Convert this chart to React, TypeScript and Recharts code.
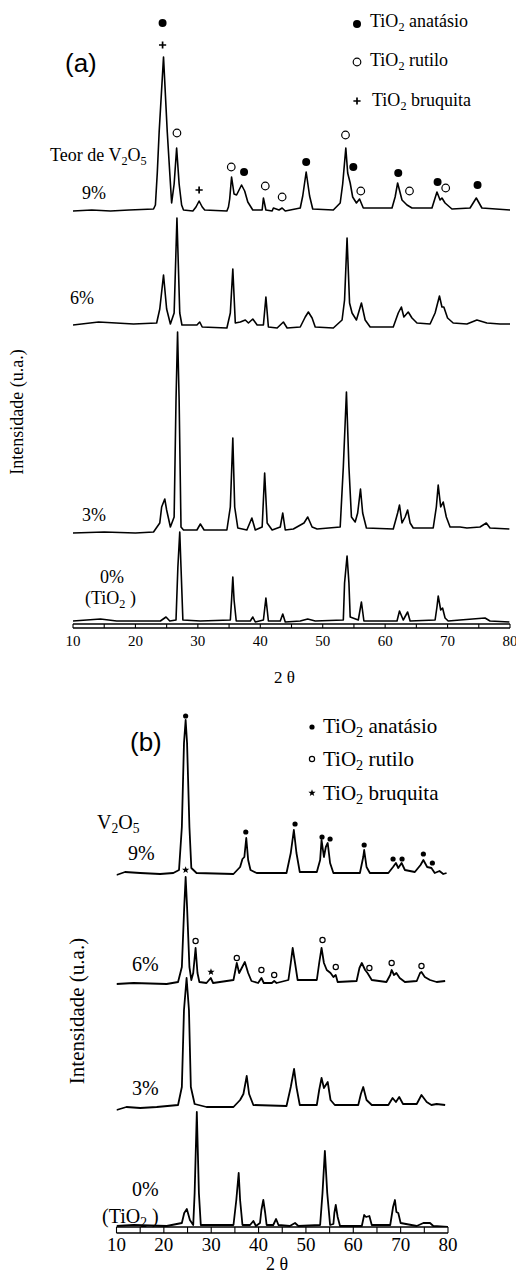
import React from 'react';
import { ComposedChart, Line, Scatter, XAxis, YAxis, ReferenceLine } from 'recharts';

type Pt = [number, number];

const SERIF = '"Liberation Serif", "Times New Roman", serif';
const SANS = '"Liberation Sans", Arial, sans-serif';

// ---------- shared axis ticks ----------
const X_TICKS = [10, 15, 20, 25, 30, 35, 40, 45, 50, 55, 60, 65, 70, 75, 80];
const X_TICK_LABELS = [10, 20, 30, 40, 50, 60, 70, 80];

// ---------- panel (a): intensity (u.a.) vs 2θ ----------
const A_9: Pt[] = [
  [10, 413], [13, 414], [16, 413], [19, 414], [22.9, 415], [23.2, 419], [23.5, 451], [23.8, 492], [24.5, 567],
  [25.1, 492], [25.5, 451], [25.8, 421], [26.2, 440], [26.6, 476], [27.0, 440], [27.4, 419], [27.7, 414],
  [29.2, 413], [29.7, 417], [30.2, 423], [30.7, 417], [31.1, 414], [34.65, 413], [34.9, 417], [35.1, 425],
  [35.4, 447], [35.8, 430], [36.2, 429], [37.0, 439], [37.5, 433], [38.0, 422], [38.8, 414], [40.3, 414],
  [40.5, 426], [40.9, 414], [41.9, 413], [42.1, 416], [43.0, 414], [43.5, 416], [44.0, 413], [46.4, 416],
  [46.8, 428], [47.35, 452], [47.9, 428], [48.4, 415], [51.7, 414], [52.8, 421], [53.2, 440], [53.7, 476],
  [54.0, 451], [54.4, 441], [54.8, 427], [55.4, 421], [55.9, 425], [56.5, 416], [61.1, 416], [61.6, 427],
  [62.0, 441], [62.7, 424], [63.5, 419], [64.3, 416], [67.5, 416], [68.3, 432], [68.8, 424], [69.1, 426],
  [69.6, 421], [70.7, 415], [73.6, 416], [74.6, 426], [75.5, 416], [80, 414],
];
const A_6: Pt[] = [
  [10, 299], [14.1, 302], [19.7, 300], [23.4, 301], [23.9, 315], [24.5, 349], [25.0, 315], [25.6, 300],
  [26.2, 311], [26.65, 406], [27.1, 311], [27.45, 299], [29.85, 299], [30.3, 302], [30.7, 297], [34.65, 296],
  [35.2, 311], [35.6, 355], [36.0, 301], [36.8, 302], [37.6, 304], [38.1, 301], [38.8, 305], [39.5, 299],
  [40.5, 299], [40.9, 327], [41.3, 297], [42.7, 296], [43.7, 302], [44.3, 296], [46.4, 297], [47.2, 307],
  [47.7, 312], [48.3, 306], [48.8, 297], [51.7, 296], [53.1, 304], [53.5, 324], [53.9, 386], [54.3, 321],
  [54.7, 311], [55.4, 304], [56.2, 321], [56.8, 304], [57.6, 297], [61.3, 297], [62.1, 311], [62.6, 317],
  [63.0, 307], [63.7, 312], [64.3, 306], [65.1, 301], [67.2, 300], [68.0, 311], [68.7, 328], [69.1, 317],
  [69.4, 317], [70.0, 306], [70.9, 301], [73.1, 300], [74.7, 304], [76.3, 301], [78.4, 300], [80, 300],
];
const A_3: Pt[] = [
  [10, 91], [15, 92], [20, 91], [22.9, 92], [23.9, 101], [24.2, 117], [24.7, 125], [25.0, 114], [25.6, 97],
  [26.2, 107], [26.5, 224], [26.75, 292], [27.0, 224], [27.3, 97], [27.7, 94], [29.85, 94], [30.4, 100],
  [31.0, 94], [34.65, 94], [35.2, 117], [35.6, 186], [35.9, 117], [36.4, 96], [37.85, 94], [38.65, 106],
  [39.2, 94], [40.3, 97], [40.7, 151], [41.1, 101], [41.9, 94], [43.2, 97], [43.6, 111], [44.0, 94],
  [45.3, 95], [47.0, 101], [47.6, 107], [48.3, 97], [49.1, 95], [52.8, 97], [53.3, 157], [53.8, 232],
  [54.2, 157], [54.6, 107], [55.2, 102], [55.6, 111], [56.05, 135], [56.4, 111], [57.0, 96], [61.3, 95],
  [62.0, 111], [62.3, 119], [62.7, 101], [63.2, 107], [63.6, 114], [64.0, 101], [64.5, 96], [67.7, 96],
  [68.2, 117], [68.5, 139], [68.9, 117], [69.3, 122], [69.8, 107], [70.4, 97], [72.0, 97], [73.1, 96],
  [75.2, 97], [76.2, 101], [76.8, 96], [79.9, 95],
];
const A_0: Pt[] = [
  [10, 3], [12.2, 4], [14.4, 5], [17.0, 3], [24.0, 3], [24.9, 7], [25.5, 3], [26.5, 4], [26.8, 57], [27.1, 92],
  [27.3, 57], [27.6, 4], [30.4, 3], [35.2, 4], [35.4, 24], [35.6, 47], [35.8, 24], [36.15, 3], [38.4, 3],
  [38.8, 7], [39.2, 2], [40.5, 4], [40.9, 26], [41.3, 3], [43.2, 3], [43.6, 10], [44.0, 2], [46.4, 3],
  [47.6, 5], [48.8, 3], [53.3, 4], [53.5, 41], [53.9, 68], [54.2, 41], [54.4, 7], [55.7, 4], [56.2, 22],
  [56.6, 3], [61.9, 3], [62.3, 13], [62.9, 4], [63.6, 12], [64.0, 3], [68.0, 4], [68.3, 17], [68.5, 28],
  [68.9, 14], [69.2, 16], [69.6, 6], [70.1, 3], [72.0, 4], [76.0, 6], [76.8, 3], [79.9, 2],
];
const A_ANATASE: Pt[] = [[24.35, 601], [37.4, 452], [47.35, 462], [54.9, 457], [62.1, 451], [68.4, 442], [74.8, 439]];
const A_RUTILE: Pt[] = [[26.65, 491], [35.35, 457], [40.8, 438], [43.5, 427], [53.65, 489], [56.1, 433], [63.9, 433], [69.7, 436]];
const A_BROOKITE: Pt[] = [[24.35, 579], [30.2, 434]];

// ---------- panel (b) ----------
const B_9: Pt[] = [
  [10, 352], [11.8, 355], [15.0, 354], [19.2, 353], [22.0, 354], [23.2, 357], [23.8, 400], [24.25, 484],
  [24.6, 507], [24.9, 484], [25.4, 400], [25.8, 359], [26.9, 354], [34.7, 353], [36.1, 360], [36.6, 368],
  [37.0, 370], [37.4, 389], [37.8, 367], [38.3, 357], [39.6, 354], [45.9, 354], [46.8, 374], [47.45, 397],
  [48.0, 374], [48.7, 355], [52.3, 355], [53.0, 367], [53.3, 387], [53.8, 370], [54.2, 380], [54.6, 384],
  [55.1, 364], [55.8, 354], [61.4, 354], [62.1, 370], [62.3, 377], [62.8, 360], [63.5, 354], [67.4, 354],
  [68.4, 360], [69.0, 364], [69.5, 359], [70.2, 364], [70.9, 357], [73.0, 355], [74.2, 362], [74.8, 367],
  [75.6, 360], [76.5, 359], [77.2, 354], [78.2, 356], [79.0, 353], [79.7, 354],
];
const B_6: Pt[] = [
  [10, 243], [13.6, 244], [20.6, 243], [23.0, 245], [23.8, 260], [24.3, 320], [24.6, 350], [24.9, 320],
  [25.4, 260], [25.8, 247], [26.2, 254], [26.7, 279], [27.1, 254], [27.5, 245], [29.0, 244], [29.9, 249],
  [30.4, 244], [34.7, 247], [35.4, 264], [35.9, 254], [37.1, 265], [37.8, 254], [38.5, 246], [39.9, 244],
  [40.6, 249], [41.1, 244], [42.8, 244], [43.3, 246], [43.8, 244], [46.3, 247], [46.8, 264], [47.2, 279],
  [47.7, 264], [48.25, 247], [52.3, 247], [52.8, 264], [53.3, 279], [53.8, 264], [54.4, 257], [55.2, 254],
  [55.8, 250], [56.3, 252], [56.7, 245], [60.7, 246], [61.3, 259], [61.8, 264], [62.5, 257], [63.0, 254],
  [63.9, 247], [67.0, 245], [67.8, 252], [68.1, 257], [68.6, 252], [69.1, 254], [69.8, 249], [70.9, 245],
  [73.4, 246], [74.1, 254], [74.4, 255], [75.1, 250], [76.2, 247], [77.6, 245], [79.4, 246],
];
const B_3: Pt[] = [
  [10, 117], [12.1, 120], [15.0, 119], [18.5, 120], [23.0, 122], [23.8, 140], [24.25, 217], [24.8, 249],
  [25.3, 217], [25.7, 140], [26.5, 123], [29.0, 120], [34.7, 120], [36.1, 127], [36.8, 133], [37.5, 151],
  [38.0, 133], [38.9, 122], [45.9, 121], [46.8, 140], [47.5, 158], [48.0, 140], [48.7, 122], [52.3, 122],
  [52.8, 137], [53.3, 149], [53.8, 139], [54.6, 145], [55.2, 127], [56.1, 122], [61.05, 122], [61.6, 133],
  [62.1, 140], [62.8, 127], [63.9, 122], [67.4, 122], [68.3, 129], [69.0, 125], [69.7, 130], [70.5, 123],
  [73.4, 123], [74.4, 132], [75.5, 125], [76.5, 122], [77.6, 123], [79.4, 122],
];
const B_0: Pt[] = [
  [10, 1], [13.6, 2], [20.6, 1], [23.8, 4], [24.3, 14], [24.85, 18], [25.5, 7], [26.2, 2], [26.5, 34],
  [26.96, 115], [27.4, 34], [27.8, 2], [34.7, 2], [35.3, 27], [35.8, 54], [36.1, 27], [36.6, 2], [38.2, 2],
  [38.9, 6], [39.45, 1], [40.3, 4], [40.6, 17], [41.0, 27], [41.4, 14], [41.7, 2], [43.1, 2], [43.7, 8],
  [44.2, 2], [46.6, 1], [47.7, 4], [48.4, 1], [53.0, 2], [53.5, 34], [54.0, 76], [54.5, 34], [55.1, 2],
  [55.8, 3], [56.0, 14], [56.3, 22], [56.7, 10], [57.2, 1], [61.8, 1], [62.3, 12], [62.7, 10], [63.4, 11],
  [63.9, 2], [67.8, 2], [68.4, 20], [68.8, 27], [69.1, 15], [69.5, 14], [70.0, 4], [73.4, 1], [74.8, 4],
  [76.2, 4], [76.9, 1], [80, 0],
];
const B_ANATASE: Pt[] = [[24.6, 511], [37.3, 395], [47.7, 403], [53.4, 390], [55.1, 388], [62.3, 382], [68.4, 368], [70.3, 368], [74.8, 373], [76.7, 364]];
const B_RUTILE: Pt[] = [[26.7, 286], [35.4, 269], [40.6, 257], [43.3, 252], [53.5, 287], [56.3, 260], [63.4, 259], [68.1, 264], [74.4, 261]];
const B_BROOKITE: Pt[] = [[24.6, 357], [29.95, 255]];

const toRows = (pts: Pt[]) => pts.map(([x, y]) => ({ x, y }));

// ---------- marker shapes ----------
const starPath = (cx: number, cy: number, R: number, r: number) => {
  let d = '';
  for (let i = 0; i < 10; i++) {
    const a = -Math.PI / 2 + (i * Math.PI) / 5;
    const rad = i % 2 === 0 ? R : r;
    d += (i === 0 ? 'M' : 'L') + (cx + rad * Math.cos(a)).toFixed(2) + ',' + (cy + rad * Math.sin(a)).toFixed(2);
  }
  return d + 'Z';
};

type Kind = 'dot' | 'ring' | 'plus' | 'star';
const drawSymbol = (kind: Kind, cx: number, cy: number, s: number) => {
  if (kind === 'dot') return <circle cx={cx} cy={cy} r={s} fill="#000" />;
  if (kind === 'ring') return <circle cx={cx} cy={cy} r={s} fill="#fff" stroke="#000" strokeWidth={1.2} />;
  if (kind === 'plus')
    return <path d={`M${cx - s},${cy}H${cx + s}M${cx},${cy - s}V${cy + s}`} stroke="#000" strokeWidth={1.7} fill="none" />;
  return <path d={starPath(cx, cy, s, s * 0.42)} fill="#000" />;
};
const shapeOf = (kind: Kind, s: number) => (props: any) => (
  <g>{drawSymbol(kind, props.cx, props.cy, s)}</g>
);

// ---------- html text helpers ----------
const Sub = ({ children }: { children: React.ReactNode }) => (
  <span style={{ fontSize: '0.68em', position: 'relative', top: '0.3em' }}>{children}</span>
);
const T = ({ x, y, size, family, children }: { x: number; y: number; size: number; family?: string; children: React.ReactNode }) => (
  <div
    style={{
      position: 'absolute', left: x, top: y - size / 2, fontSize: size, lineHeight: `${size}px`,
      fontFamily: family ?? SERIF, whiteSpace: 'nowrap', color: '#000',
    }}
  >
    {children}
  </div>
);
const VT = ({ x, y, size, children }: { x: number; y: number; size: number; children: React.ReactNode }) => (
  <div
    style={{
      position: 'absolute', left: x, top: y, fontSize: size, lineHeight: `${size}px`, fontFamily: SERIF,
      whiteSpace: 'nowrap', color: '#000', transform: 'translate(-50%, -50%) rotate(-90deg)',
    }}
  >
    {children}
  </div>
);
const Sym = ({ x, y, kind, s }: { x: number; y: number; kind: Kind; s: number }) => (
  <svg style={{ position: 'absolute', left: x - 8, top: y - 8 }} width={16} height={16}>
    {drawSymbol(kind, 8, 8, s)}
  </svg>
);

const makeTick = (fontSize: number) => (props: any) => {
  const v = props.payload?.value;
  if (!X_TICK_LABELS.includes(v)) return <g />;
  return (
    <text x={props.x} y={props.y} dy="0.71em" textAnchor="middle" fill="#000"
      style={{ fontFamily: SERIF, fontSize }}>
      {String(v)}
    </text>
  );
};

const Panel = ({
  width, height, margin, yMax, series, markers, tickSize, fontSize, strokeWidth, tickMargin,
}: any) => (
  <ComposedChart width={width} height={height} margin={margin}>
    <XAxis
      type="number" dataKey="x" domain={[10, 80]} ticks={X_TICKS} interval={0}
      height={30} tickSize={tickSize} tickMargin={tickMargin} allowDataOverflow
      axisLine={{ stroke: '#000', strokeWidth: 1.3 }} tickLine={{ stroke: '#000', strokeWidth: 1.1 }}
      tick={makeTick(fontSize)}
    />
    <YAxis type="number" dataKey="y" domain={[0, yMax]} hide allowDataOverflow />
    <ReferenceLine y={-tickSize} ifOverflow="visible" stroke="#000" strokeWidth={1.3} />
    {series.map((s: Pt[], i: number) => (
      <Line key={i} data={toRows(s)} dataKey="y" type="linear" dot={false} stroke="#000"
        strokeWidth={strokeWidth} strokeLinejoin="round" isAnimationActive={false} />
    ))}
    {markers.map((m: any, i: number) => (
      <Scatter key={'m' + i} data={toRows(m.pts)} dataKey="y" shape={shapeOf(m.kind, m.s)} isAnimationActive={false} />
    ))}
  </ComposedChart>
);

export default function App() {
  return (
    <div style={{ position: 'absolute', left: 0, top: 0, width: 516, height: 1274, overflow: 'hidden', background: '#fff' }}>
      {/* panel (a) */}
      <div style={{ position: 'absolute', left: 0, top: 0 }}>
        <Panel
          width={516} height={680} margin={{ top: 0, right: 6, bottom: 26, left: 73 }} yMax={624}
          series={[A_9, A_6, A_3, A_0]} tickSize={4} tickMargin={7} fontSize={15} strokeWidth={1.6}
          markers={[
            { pts: A_ANATASE, kind: 'dot', s: 4 },
            { pts: A_RUTILE, kind: 'ring', s: 3.8 },
            { pts: A_BROOKITE, kind: 'plus', s: 3.6 },
          ]}
        />
      </div>
      <T x={65} y={63} size={26} family={SANS}>(a)</T>
      <Sym x={357} y={24} kind="dot" s={4} />
      <T x={370} y={21} size={18}>TiO<Sub>2</Sub> anatásio</T>
      <Sym x={357} y={62} kind="ring" s={3.8} />
      <T x={370} y={60} size={18}>TiO<Sub>2</Sub> rutilo</T>
      <Sym x={357} y={101} kind="plus" s={3.6} />
      <T x={372} y={100} size={18}>TiO<Sub>2</Sub> bruquita</T>
      <T x={50} y={155} size={18}>Teor de V<Sub>2</Sub>O<Sub>5</Sub></T>
      <T x={82} y={193} size={18}>9%</T>
      <T x={70} y={298} size={18}>6%</T>
      <T x={82} y={515} size={18}>3%</T>
      <T x={100} y={577} size={18}>0%</T>
      <T x={85} y={598} size={18}>(TiO<Sub>2</Sub> )</T>
      <VT x={17} y={412} size={18}>Intensidade (u.a.)</VT>
      <T x={274} y={677} size={17}>2 θ</T>

      {/* panel (b) */}
      <div style={{ position: 'absolute', left: 0, top: 690 }}>
        <Panel
          width={516} height={584} margin={{ top: 0, right: 68, bottom: 17, left: 116.5 }} yMax={537}
          series={[B_9, B_6, B_3, B_0]} tickSize={6} tickMargin={5} fontSize={19} strokeWidth={1.8}
          markers={[
            { pts: B_ANATASE, kind: 'dot', s: 2.6 },
            { pts: B_RUTILE, kind: 'ring', s: 2.6 },
            { pts: B_BROOKITE, kind: 'star', s: 3.8 },
          ]}
        />
      </div>
      <T x={130} y={742} size={26} family={SANS}>(b)</T>
      <Sym x={312} y={727} kind="dot" s={2.6} />
      <T x={323} y={726} size={21}>TiO<Sub>2</Sub> anatásio</T>
      <Sym x={312} y={759} kind="ring" s={2.6} />
      <T x={323} y={759} size={21}>TiO<Sub>2</Sub> rutilo</T>
      <Sym x={312} y={793} kind="star" s={3.8} />
      <T x={323} y={793} size={21}>TiO<Sub>2</Sub> bruquita</T>
      <T x={97} y={822} size={20}>V<Sub>2</Sub>O<Sub>5</Sub></T>
      <T x={128} y={853} size={20}>9%</T>
      <T x={132} y={964} size={20}>6%</T>
      <T x={132} y={1088} size={20}>3%</T>
      <T x={132} y={1189} size={20}>0%</T>
      <T x={102} y={1216} size={20}>(TiO<Sub>2</Sub> )</T>
      <VT x={77} y={1011} size={21}>Intensidade (u.a.)</VT>
      <T x={266} y={1264} size={18}>2 θ</T>
    </div>
  );
}
